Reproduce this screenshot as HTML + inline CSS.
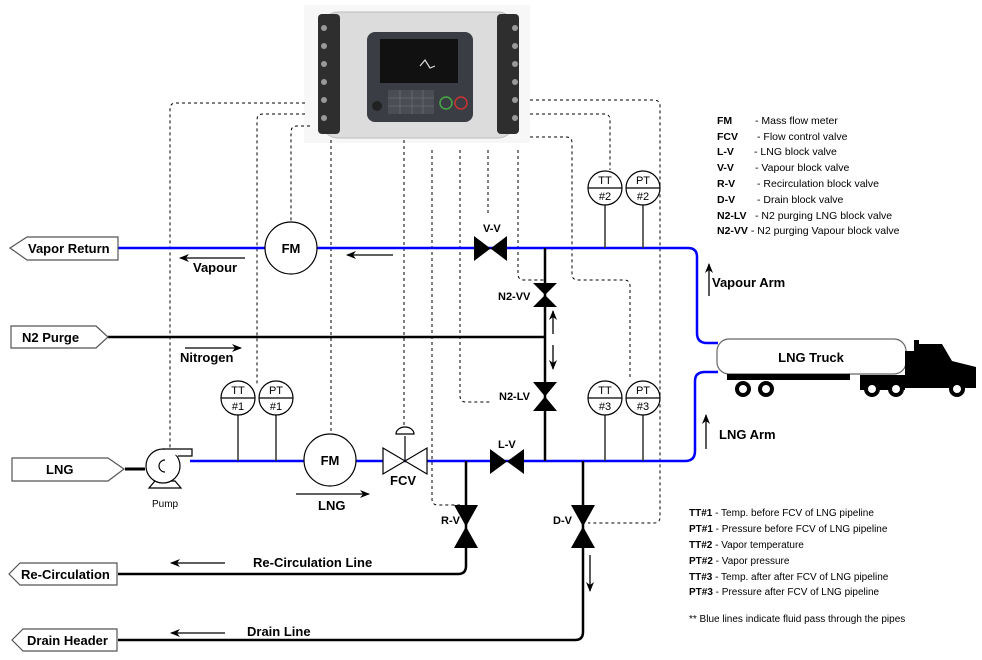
<!DOCTYPE html>
<html><head><meta charset="utf-8"><style>
body{margin:0;background:#fff;}
svg{display:block;font-family:"Liberation Sans",sans-serif;}
</style></head><body>
<svg width="982" height="660" viewBox="0 0 982 660" xmlns="http://www.w3.org/2000/svg">
<defs>
<marker id="ah" markerWidth="10" markerHeight="8" refX="9" refY="4" orient="auto" markerUnits="userSpaceOnUse"><path d="M0,0 L10,4 L0,8 L3,4 Z" fill="#000"/></marker>
</defs>
<!-- controller -->
<rect x="304" y="5" width="226" height="138" fill="#f7f7f7"/>
<rect x="322" y="12" width="192" height="126" rx="16" fill="#dcdcdc" stroke="#bbb"/>
<rect x="318" y="14" width="22" height="120" rx="4" fill="#2e2e2e"/>
<rect x="497" y="14" width="22" height="120" rx="4" fill="#2e2e2e"/>
<g fill="#999"><circle cx="324" cy="28" r="3"/><circle cx="324" cy="46" r="3"/><circle cx="324" cy="64" r="3"/><circle cx="324" cy="82" r="3"/><circle cx="324" cy="100" r="3"/><circle cx="324" cy="118" r="3"/>
<circle cx="515" cy="28" r="3"/><circle cx="515" cy="46" r="3"/><circle cx="515" cy="64" r="3"/><circle cx="515" cy="82" r="3"/><circle cx="515" cy="100" r="3"/><circle cx="515" cy="118" r="3"/></g>
<rect x="367" y="32" width="106" height="90" rx="8" fill="#3a3d44"/>
<rect x="380" y="39" width="78" height="44" fill="#111"/>
<path d="M420,66 L425,60 L430,68 L435,66" stroke="#ddd" fill="none" stroke-width="1.2"/>
<rect x="388" y="90" width="46" height="24" fill="#4a4d55"/>
<g stroke="#6a6d75" stroke-width="0.8"><line x1="388" y1="98" x2="434" y2="98"/><line x1="388" y1="106" x2="434" y2="106"/><line x1="400" y1="90" x2="400" y2="114"/><line x1="412" y1="90" x2="412" y2="114"/><line x1="423" y1="90" x2="423" y2="114"/></g>
<circle cx="446" cy="103" r="6" fill="none" stroke="#4a4" stroke-width="1.5"/><circle cx="461" cy="103" r="6" fill="none" stroke="#c33" stroke-width="1.5"/>
<circle cx="377" cy="106" r="5" fill="#222"/>
<!-- dashed control lines -->
<g fill="none" stroke="#000" stroke-dasharray="3,3" stroke-width="1">
<path d="M305,103 H176 Q170,103 170,109 V455"/>
<path d="M305,114 H263 Q257,114 257,120 V385"/>
<path d="M310,126 H297 Q291,126 291,132 V222"/>
<path d="M331,140 V432"/>
<path d="M404,140 V425"/>
<path d="M432,150 V499 Q432,505 438,505 H460"/>
<path d="M460,150 V396 Q460,402 466,402 H490"/>
<path d="M488,150 V215"/>
<path d="M518,150 V274 Q518,280 524,280 H545"/>
<path d="M530,137 H566 Q572,137 572,143 V274 Q572,280 578,280 H624 Q630,280 630,286 V378"/>
<path d="M530,114 H604 Q610,114 610,120 V170"/>
<path d="M530,100 H654 Q660,100 660,106 V517 Q660,523 654,523 H588"/>
</g>
<!-- blue pipes -->
<g fill="none" stroke="#0000ff" stroke-width="2.5">
<path d="M118,248 H688 Q697,248 697,257 V333 Q697,343 707,343 H718"/>
<path d="M190,461 H685 Q695,461 695,451 V381 Q695,372 705,372 H718"/>
</g>
<!-- black pipes -->
<g fill="none" stroke="#000" stroke-width="2.5">
<path d="M108,337 H545"/>
<path d="M545,248 V461"/>
<path d="M466,461 V566 Q466,574 458,574 H118"/>
<path d="M583,461 V632 Q583,640 575,640 H118"/>
<path d="M125,469 H145" stroke-width="3"/>
</g>
<!-- instrument stems -->
<g stroke="#333" stroke-width="1.5">
<line x1="238" y1="415" x2="238" y2="461"/><line x1="276" y1="415" x2="276" y2="461"/>
<line x1="605" y1="205" x2="605" y2="248"/><line x1="643" y1="205" x2="643" y2="248"/>
<line x1="605" y1="415" x2="605" y2="461"/><line x1="643" y1="415" x2="643" y2="461"/>
<line x1="405" y1="436" x2="405" y2="461"/>
</g>
<!-- instruments -->
<g fill="#fff" stroke="#000" stroke-width="1.2">
<circle cx="238" cy="398" r="17"/><circle cx="276" cy="398" r="17"/>
<circle cx="605" cy="188" r="17"/><circle cx="643" cy="188" r="17"/>
<circle cx="605" cy="398" r="17"/><circle cx="643" cy="398" r="17"/>
<circle cx="291" cy="248" r="26"/><circle cx="330" cy="460" r="26"/>
</g>
<g stroke="#000" stroke-width="1.2">
<line x1="221" y1="398" x2="255" y2="398"/><line x1="259" y1="398" x2="293" y2="398"/>
<line x1="588" y1="188" x2="622" y2="188"/><line x1="626" y1="188" x2="660" y2="188"/>
<line x1="588" y1="398" x2="622" y2="398"/><line x1="626" y1="398" x2="660" y2="398"/>
</g>
<g font-size="11" text-anchor="middle" fill="#000">
<text x="238" y="394">TT</text><text x="238" y="410">#1</text>
<text x="276" y="394">PT</text><text x="276" y="410">#1</text>
<text x="605" y="184">TT</text><text x="605" y="200">#2</text>
<text x="643" y="184">PT</text><text x="643" y="200">#2</text>
<text x="605" y="394">TT</text><text x="605" y="410">#3</text>
<text x="643" y="394">PT</text><text x="643" y="410">#3</text>
</g>
<g font-size="13" text-anchor="middle"><text x="291" y="253" font-weight="bold">FM</text><text x="330" y="465" font-weight="bold">FM</text></g>
<!-- FCV -->
<g stroke="#000" stroke-width="1.2" fill="#fff">
<path d="M383,448 L427,474 L427,448 L383,474 Z"/>
<path d="M396,434 A9,7 0 0 1 414,434 Z"/>
</g>
<!-- valves -->
<g fill="#000">
<path d="M474,236 L507,261 L507,236 L474,261 Z"/>
<path d="M490,449 L524,474 L524,449 L490,474 Z"/>
<path d="M533,283 L557,307 L533,307 L557,283 Z"/>
<path d="M533,382 L557,411 L533,411 L557,382 Z"/>
<path d="M454,505 L478,548 L454,548 L478,505 Z"/>
<path d="M571,505 L595,548 L571,548 L595,505 Z"/>
</g>
<!-- pump -->
<g stroke="#000" stroke-width="1.2" fill="#fff">
<path d="M149,488 L181,488 L175,481 L155,481 Z"/>
<circle cx="163" cy="466" r="17"/>
<path d="M163,449 H192 V456 H178"/>
<path d="M165,460 A6,6 0 1 0 165,472" fill="none"/>
</g>
<!-- labels boxes -->
<g fill="#fff" stroke="#555" stroke-width="1.2">
<path d="M10,248 L27,237 H118 V260 H27 Z"/>
<path d="M11,326 H96 L108,337 L96,348 H11 Z"/>
<path d="M12,458 H108 L124,469 L108,481 H12 Z"/>
<path d="M9,574 L20,563 H117 V585 H20 Z"/>
<path d="M12,640 L23,629 H117 V651 H23 Z"/>
</g>
<g font-weight="bold" font-size="13" fill="#000">
<text x="28" y="253">Vapor Return</text>
<text x="22" y="342">N2 Purge</text>
<text x="46" y="474">LNG</text>
<text x="21" y="579">Re-Circulation</text>
<text x="27" y="645">Drain Header</text>
<text x="193" y="272">Vapour</text>
<text x="180" y="362">Nitrogen</text>
<text x="318" y="510">LNG</text>
<text x="390" y="485">FCV</text>
<text x="253" y="567">Re-Circulation Line</text>
<text x="247" y="636">Drain Line</text>
<text x="712" y="287">Vapour Arm</text>
<text x="719" y="439">LNG Arm</text>
</g>
<g font-weight="bold" font-size="11" fill="#000">
<text x="483" y="232">V-V</text>
<text x="498" y="300">N2-VV</text>
<text x="499" y="400">N2-LV</text>
<text x="498" y="448">L-V</text>
<text x="441" y="524">R-V</text>
<text x="553" y="524">D-V</text>
</g>
<text x="152" y="507" font-size="10" fill="#000">Pump</text>
<!-- arrows -->
<g stroke="#000" stroke-width="1.3" marker-end="url(#ah)">
<line x1="245" y1="258" x2="180" y2="258"/>
<line x1="393" y1="255" x2="347" y2="255"/>
<line x1="185" y1="348" x2="241" y2="348"/>
<line x1="296" y1="494" x2="369" y2="494"/>
<line x1="225" y1="563" x2="171" y2="563"/>
<line x1="225" y1="633" x2="171" y2="633"/>
<line x1="553" y1="334" x2="553" y2="311"/>
<line x1="553" y1="345" x2="553" y2="369"/>
<line x1="590" y1="555" x2="590" y2="591"/>
<line x1="709" y1="296" x2="709" y2="264"/>
<line x1="706" y1="449" x2="706" y2="415"/>
</g>
<!-- truck -->
<rect x="717" y="339" width="189" height="35" rx="12" fill="#fff" stroke="#666" stroke-width="1.2"/>
<text x="811" y="362" text-anchor="middle" font-weight="bold" font-size="13">LNG Truck</text>
<path d="M727,374 H850 V380 H727 Z" fill="#000"/>
<path d="M905,351 H914 V340 H919 V344 H942 L952,361 L976,367 V388 H905 Z M860,375 H905 V390 H860 Z" fill="#000"/>
<g fill="#fff" stroke="#000" stroke-width="4">
<circle cx="743" cy="389" r="6"/><circle cx="766" cy="389" r="6"/>
<circle cx="872" cy="389" r="6"/><circle cx="896" cy="389" r="6"/><circle cx="957" cy="389" r="6"/>
</g>
<!-- legend -->
<g font-size="10.5" fill="#000">
<text x="717" y="124"><tspan font-weight="bold">FM</tspan></text><text x="755" y="124">- Mass flow meter</text>
<text x="717" y="140"><tspan font-weight="bold">FCV</tspan></text><text x="757" y="140">- Flow control valve</text>
<text x="717" y="155"><tspan font-weight="bold">L-V</tspan></text><text x="754" y="155">- LNG block valve</text>
<text x="717" y="171"><tspan font-weight="bold">V-V</tspan></text><text x="755" y="171">- Vapour block valve</text>
<text x="717" y="187"><tspan font-weight="bold">R-V</tspan></text><text x="757" y="187">- Recirculation block valve</text>
<text x="717" y="203"><tspan font-weight="bold">D-V</tspan></text><text x="757" y="203">- Drain block valve</text>
<text x="717" y="219"><tspan font-weight="bold">N2-LV</tspan></text><text x="755" y="219">- N2 purging LNG block valve</text>
<text x="717" y="234"><tspan font-weight="bold">N2-VV</tspan> - N2 purging Vapour block valve</text>
<g font-size="10">
<text x="689" y="516"><tspan font-weight="bold">TT#1</tspan> - Temp. before FCV of LNG pipeline</text>
<text x="689" y="532"><tspan font-weight="bold">PT#1</tspan> - Pressure before FCV of LNG pipeline</text>
<text x="689" y="548"><tspan font-weight="bold">TT#2</tspan> - Vapor temperature</text>
<text x="689" y="564"><tspan font-weight="bold">PT#2</tspan> - Vapor pressure</text>
<text x="689" y="580"><tspan font-weight="bold">TT#3</tspan> - Temp. after after FCV of LNG pipeline</text>
<text x="689" y="595"><tspan font-weight="bold">PT#3</tspan> - Pressure after FCV of LNG pipeline</text>
<text x="689" y="622">** Blue lines indicate fluid pass through the pipes</text>
</g>
</g>
</svg>
</body></html>
